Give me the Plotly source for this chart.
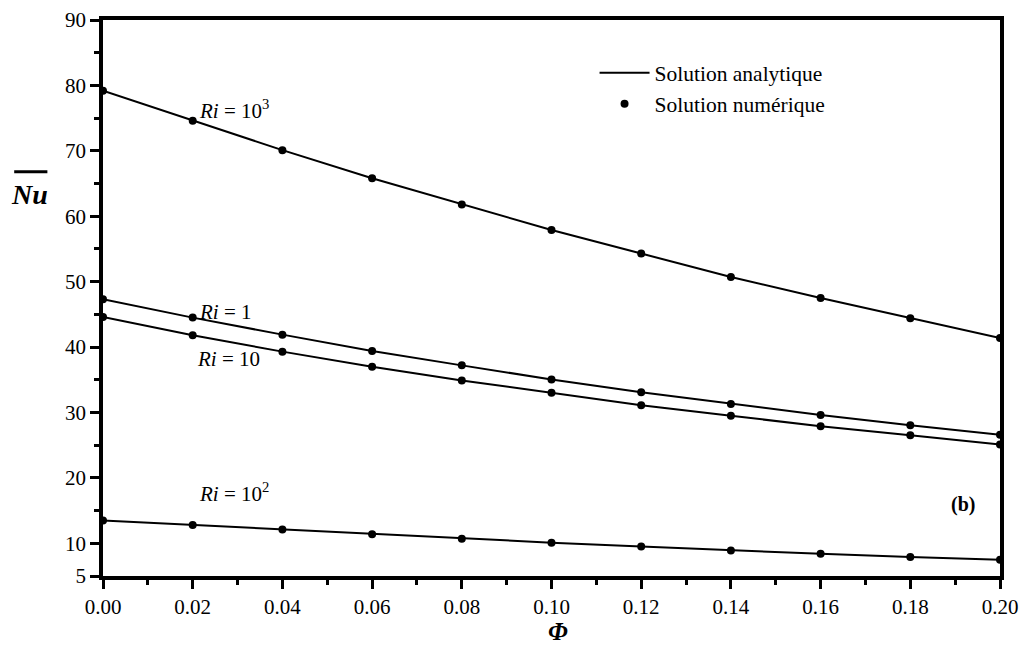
import plotly.graph_objects as go

phi = [0.00, 0.02, 0.04, 0.06, 0.08, 0.10, 0.12, 0.14, 0.16, 0.18, 0.20]
nu_ri1000 = [79.2, 74.6, 70.1, 65.8, 61.8, 57.9, 54.3, 50.7, 47.5, 44.4, 41.4]
nu_ri1 = [47.3, 44.5, 41.9, 39.4, 37.2, 35.05, 33.1, 31.3, 29.6, 28.05, 26.6]
nu_ri10 = [44.6, 41.8, 39.3, 37.0, 34.9, 33.0, 31.1, 29.5, 27.9, 26.5, 25.1]
nu_ri100 = [13.5, 12.8, 12.1, 11.4, 10.7, 10.1, 9.5, 8.9, 8.4, 7.9, 7.5]

series = [nu_ri1000, nu_ri1, nu_ri10, nu_ri100]
labels = ["<i>Ri</i> = 10<sup>3</sup>", "<i>Ri</i> = 1", "<i>Ri</i> = 10", "<i>Ri</i> = 10<sup>2</sup>"]
label_pos = [(0.0210, 76.3), (0.0210, 45.3), (0.0205, 38.1), (0.0210, 17.8)]

x_ticks = [0.00, 0.02, 0.04, 0.06, 0.08, 0.10, 0.12, 0.14, 0.16, 0.18, 0.20]
x_tick_text = ["0.00", "0.02", "0.04", "0.06", "0.08", "0.10", "0.12", "0.14", "0.16", "0.18", "0.20"]
y_ticks = [5, 10, 20, 30, 40, 50, 60, 70, 80, 90]
x_minor = [0.01, 0.03, 0.05, 0.07, 0.09, 0.11, 0.13, 0.15, 0.17, 0.19]
y_minor = [15, 25, 35, 45, 55, 65, 75, 85]

FONT = "Liberation Serif"

fig = go.Figure()
for i, ys in enumerate(series):
    fig.add_trace(go.Scatter(x=phi, y=ys, mode="lines", line=dict(color="black", width=2),
                             name="Solution analytique", showlegend=(i == 0)))
for i, ys in enumerate(series):
    fig.add_trace(go.Scatter(x=phi, y=ys, mode="markers", marker=dict(color="black", size=8),
                             name="Solution numérique", showlegend=(i == 0)))

for (lx, ly), txt in zip(label_pos, labels):
    fig.add_annotation(x=lx, y=ly, text=txt, showarrow=False, xanchor="left", yanchor="middle",
                       font=dict(family=FONT, size=21, color="black"))

fig.add_annotation(x=0.1918, y=16.0, text="<b>(b)</b>", showarrow=False,
                   font=dict(family=FONT, size=20, color="black"))

# axis titles
fig.add_annotation(xref="paper", yref="paper", x=-0.082, y=0.686, text="<b><i>Nu</i></b>",
                   showarrow=False, xanchor="center", yanchor="middle",
                   font=dict(family=FONT, size=28, color="black"))
fig.add_shape(type="line", xref="paper", yref="paper", x0=-0.099, x1=-0.062, y0=0.727, y1=0.727,
              line=dict(color="black", width=3))
fig.add_annotation(xref="paper", yref="paper", x=0.507, y=-0.1, text="<b><i>Φ</i></b>",
                   showarrow=False, yanchor="middle", font=dict(family=FONT, size=25, color="black"))

axis_common = dict(showgrid=False, zeroline=False, showline=True, linecolor="black", linewidth=3.8,
                   mirror=True, ticks="outside", tickcolor="black", tickwidth=3, ticklen=9,
                   automargin=False, ticklabeloverflow="allow",
                   tickfont=dict(family=FONT, size=21, color="black"))

fig.update_xaxes(range=[0, 0.2], tickmode="array", tickvals=x_ticks, ticktext=x_tick_text,
                 minor=dict(tickmode="array", tickvals=x_minor, ticks="outside", ticklen=5,
                            tickwidth=3, tickcolor="black"),
                 **axis_common)
fig.update_yaxes(range=[5, 90], tickmode="array", tickvals=y_ticks,
                 minor=dict(tickmode="array", tickvals=y_minor, ticks="outside", ticklen=5,
                            tickwidth=3, tickcolor="black"),
                 **axis_common)

fig.update_layout(
    width=1024, height=646,
    margin=dict(l=103, r=24, t=20, b=70),
    paper_bgcolor="white", plot_bgcolor="white",
    font=dict(family=FONT, size=21, color="black"),
    legend=dict(x=0.548, y=0.942, xanchor="left", yanchor="top", bgcolor="rgba(0,0,0,0)",
                font=dict(family=FONT, size=21.5, color="black"), tracegroupgap=0,
                itemwidth=50),
    showlegend=True,
)

fig.write_html("out.html", config={"displayModeBar": False},
               post_script="document.body.style.margin='0';document.body.style.overflow='hidden';")
